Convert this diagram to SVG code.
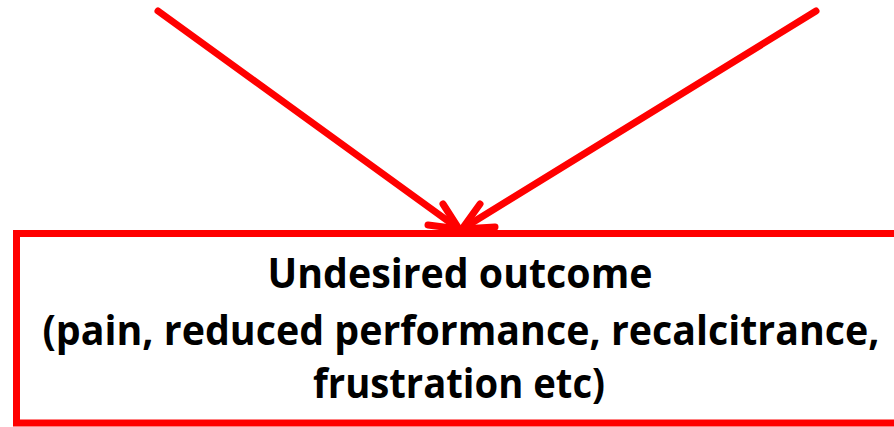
<svg xmlns="http://www.w3.org/2000/svg" width="894" height="427" viewBox="0 0 894 427">
<style>
.c{fill:none;stroke:#ff0000;stroke-width:7;stroke-linecap:round;stroke-linejoin:round}
.t{font-family:"Open Sans","Liberation Sans",sans-serif;font-weight:bold;font-size:42px;fill:#000;text-anchor:middle}
</style>
<rect width="894" height="427" fill="#fff"/>
<g id="connectors">
<path class="c" d="M158,11 L459,229"/>
<path class="c" d="M443,204 L459,229 L428,225"/>
<path class="c" d="M816,11 L462,229"/>
<path class="c" d="M480,204 L462,229 L495,227"/>
</g>
<g id="outcome">
<rect x="16.5" y="233.5" width="900" height="189.5" fill="none" stroke="#ff0000" stroke-width="7"/>
<text class="t" x="460" y="288" textLength="385" lengthAdjust="spacingAndGlyphs">Undesired outcome</text>
<text class="t" x="461" y="345" textLength="837" lengthAdjust="spacingAndGlyphs">(pain, reduced performance, recalcitrance,</text>
<text class="t" x="459" y="398" textLength="292" lengthAdjust="spacingAndGlyphs">frustration etc)</text>
</g>
</svg>
